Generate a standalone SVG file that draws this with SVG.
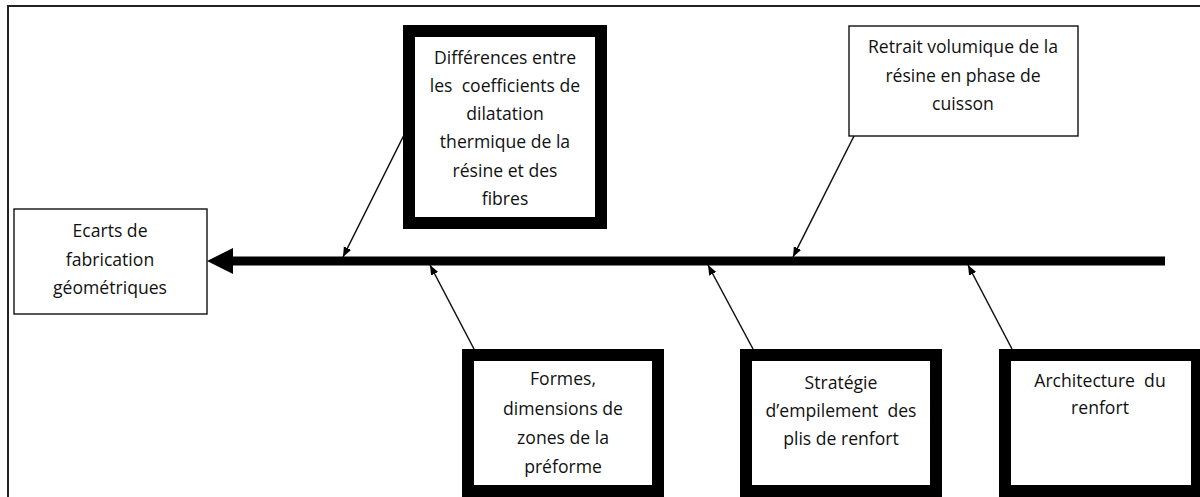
<svg xmlns="http://www.w3.org/2000/svg" width="1200" height="497" viewBox="0 0 1200 497">
<style>
  .t { font-family: "Open Sans", "Liberation Sans", sans-serif; font-size: 17.6px; fill: #111; text-anchor: middle; white-space: pre; }
  .thin { fill: #fff; stroke: #111; stroke-width: 1.4; }
  .thick { fill: #fff; stroke: #000; stroke-width: 12; }
  .br { stroke: #111; stroke-width: 1.5; fill: none; marker-end: url(#ah); }
</style>
<defs>
  <marker id="ah" markerUnits="userSpaceOnUse" markerWidth="12" markerHeight="10" refX="10" refY="4" orient="auto">
    <path d="M0,0 L10,4 L0,8 Z" fill="#000"/>
  </marker>
</defs>
<rect width="1200" height="497" fill="#fff"/>
<g id="frame">
  <path d="M8,497 L8,6 L1200,6" fill="none" stroke="#222" stroke-width="2"/>
</g>
<g id="connectors">
  <line x1="230" y1="261" x2="1165" y2="261" stroke="#000" stroke-width="9"/>
  <polygon points="207,261 233,248 233,274" fill="#000"/>
  <line class="br" x1="404" y1="135" x2="343" y2="257"/>
  <line class="br" x1="854" y1="136" x2="793" y2="257"/>
  <line class="br" x1="474" y1="349" x2="430" y2="265"/>
  <line class="br" x1="753" y1="349" x2="708" y2="265"/>
  <line class="br" x1="1012" y1="349" x2="968" y2="265"/>
</g>
<g id="ecarts">
  <rect class="thin" x="14" y="209" width="193" height="105"/>
  <text class="t" x="110" y="237">Ecarts de</text>
  <text class="t" x="110" y="266">fabrication</text>
  <text class="t" x="110" y="294">géométriques</text>
</g>
<g id="differences">
  <rect class="thick" x="409" y="31" width="192" height="192"/>
  <text class="t" x="505" y="64">Différences entre</text>
  <text class="t" x="505" y="92" xml:space="preserve">les  coefficients de</text>
  <text class="t" x="505" y="120">dilatation</text>
  <text class="t" x="505" y="148">thermique de la</text>
  <text class="t" x="505" y="177">résine et des</text>
  <text class="t" x="505" y="205">fibres</text>
</g>
<g id="retrait">
  <rect class="thin" x="849" y="26" width="229" height="110"/>
  <text class="t" x="963" y="53">Retrait volumique de la</text>
  <text class="t" x="963" y="82">résine en phase de</text>
  <text class="t" x="963" y="110">cuisson</text>
</g>
<g id="formes">
  <rect class="thick" x="468" y="355" width="190" height="136"/>
  <text class="t" x="563" y="385">Formes,</text>
  <text class="t" x="563" y="415">dimensions de</text>
  <text class="t" x="563" y="444">zones de la</text>
  <text class="t" x="563" y="473">préforme</text>
</g>
<g id="strategie">
  <rect class="thick" x="746" y="355" width="190" height="136"/>
  <text class="t" x="841" y="389">Stratégie</text>
  <text class="t" x="841" y="417" xml:space="preserve">d’empilement  des</text>
  <text class="t" x="841" y="445">plis de renfort</text>
</g>
<g id="architecture">
  <rect class="thick" x="1005" y="355" width="192" height="136"/>
  <text class="t" x="1100" y="387" xml:space="preserve">Architecture  du</text>
  <text class="t" x="1100" y="414">renfort</text>
</g>
</svg>
